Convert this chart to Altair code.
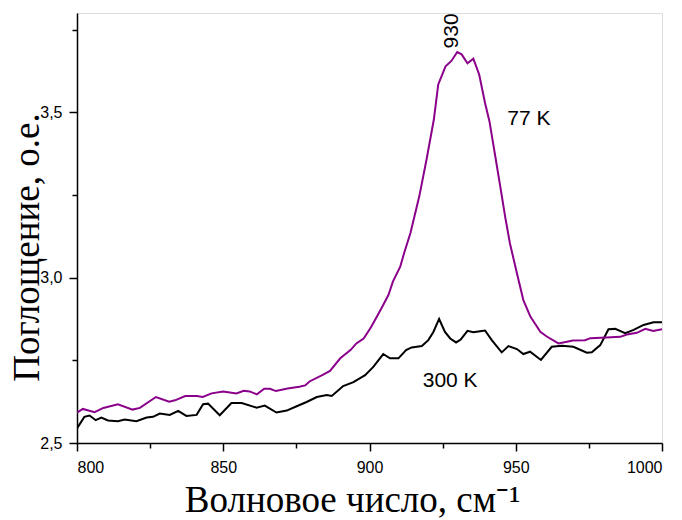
import altair as alt
import pandas as pd

# 77 K spectrum (purple)
wn_77 = [800, 802, 806, 809, 814, 819, 821.5, 827, 831.5, 833.5, 837, 841, 843, 846, 850,
         854.5, 857, 859, 861.5, 864, 866, 868, 872, 876, 878, 879.5, 884, 886.5, 890, 893.5,
         895.5, 898, 900.5, 902.5, 904.5, 906.5, 908, 910.5, 912, 914, 915.5, 917, 919.5, 922,
         923.5, 926, 928, 930, 931.5, 933.5, 935.5, 937.5, 939.5, 941, 943, 944.7, 946.4, 948,
         950.4, 952.6, 955, 958.4, 960.6, 964.6, 967.5, 969.5, 973.7, 975.5, 981, 985.7, 988,
         991.4, 994.3, 997, 1000]
abs_77 = [2.592, 2.603, 2.593, 2.606, 2.617, 2.601, 2.606, 2.639, 2.625, 2.629, 2.642, 2.642,
          2.639, 2.650, 2.656, 2.650, 2.658, 2.656, 2.647, 2.664, 2.664, 2.657, 2.665, 2.670,
          2.674, 2.686, 2.706, 2.718, 2.756, 2.781, 2.801, 2.816, 2.850, 2.882, 2.914, 2.948,
          2.988, 3.033, 3.079, 3.135, 3.190, 3.245, 3.357, 3.478, 3.584, 3.639, 3.655, 3.682,
          3.675, 3.648, 3.662, 3.614, 3.528, 3.473, 3.367, 3.276, 3.183, 3.104, 3.013, 2.932,
          2.882, 2.836, 2.822, 2.801, 2.806, 2.810, 2.811, 2.817, 2.819, 2.821, 2.828, 2.833,
          2.845, 2.839, 2.844]

# 300 K spectrum (black)
wn_300 = [800, 802.5, 804.3, 806.4, 808.3, 810.6, 814, 816.3, 820.3, 823.8, 826, 828.3, 831.7,
          834.6, 837.4, 840.9, 843.1, 844.8, 848.8, 852.8, 856.3, 861.4, 864.2, 868.2, 871.7,
          875.1, 878.5, 882, 885.4, 887.1, 891, 894.5, 898.5, 901.3, 904.7, 907, 909.9, 912.5,
          914.4, 917.9, 920.1, 921.8, 923.8, 925.8, 927.6, 929.6, 931.2, 933.5, 935.5, 937.8,
          939.5, 941.8, 945.2, 947.5, 950.4, 952.6, 954.9, 958.6, 962.3, 965.8, 969.7, 974.3,
          976, 978.9, 981.7, 984, 987.4, 990.3, 993.7, 997.1, 1000]
abs_300 = [2.544, 2.579, 2.583, 2.569, 2.577, 2.568, 2.566, 2.571, 2.566, 2.577, 2.579, 2.589,
           2.585, 2.597, 2.582, 2.585, 2.617, 2.619, 2.584, 2.621, 2.621, 2.607, 2.613, 2.592,
           2.598, 2.611, 2.624, 2.639, 2.645, 2.642, 2.672, 2.684, 2.705, 2.730, 2.769, 2.756,
           2.756, 2.781, 2.789, 2.793, 2.811, 2.835, 2.875, 2.836, 2.816, 2.804, 2.813, 2.839,
           2.835, 2.838, 2.840, 2.811, 2.774, 2.793, 2.784, 2.769, 2.776, 2.751, 2.791, 2.794,
           2.791, 2.773, 2.774, 2.796, 2.844, 2.845, 2.832, 2.842, 2.857, 2.865, 2.865]

series_names = ["300 K", "77 K"]
series_colors = ["#000000", "#8B008B"]

ann_text = ["930", "77 K", "300 K"]
ann_x = [928.1, 947.1, 918.2]
ann_y = [3.693, 3.479, 2.688]
ann_angle = [270, 0, 0]

x_ticks = [800, 825, 850, 875, 900, 925, 950, 975, 1000]
y_ticks = [2.5, 2.75, 3.0, 3.25, 3.5, 3.75]

df = pd.concat([
    pd.DataFrame({"wn": wn_300, "a": abs_300, "s": series_names[0], "o": 0}),
    pd.DataFrame({"wn": wn_77, "a": abs_77, "s": series_names[1], "o": 1}),
])
ann = pd.DataFrame({"t": ann_text, "x": ann_x, "y": ann_y, "ang": ann_angle})

major_x = "datum.value % 50 === 0"
major_y = "abs(datum.value * 2 - round(datum.value * 2)) < 0.001"

xaxis = alt.Axis(
    values=x_ticks,
    labelExpr=f"{major_x} ? format(datum.value, 'd') : ''",
    tickSize={"condition": {"test": major_x, "value": 8}, "value": 5},
    title="Волновое число, см⁻¹",
    titleFont="Liberation Serif", titleFontSize=37, titleFontWeight="normal",
    titleColor="black", titleAnchor="middle", titleAlign="center",
    titleBaseline="alphabetic", titleX=275, titleY=68,
    labelFont="Liberation Sans", labelFontSize=16, labelColor="black",
    labelPadding=8, grid=False, domainColor="black", domainWidth=1.5,
    tickColor="black", tickWidth=1.5,
)
yaxis = alt.Axis(
    values=y_ticks,
    labelExpr=f"{major_y} ? replace(format(datum.value, '.1f'), '.', ',') : ''",
    tickSize={"condition": {"test": major_y, "value": 8}, "value": 5},
    title="Поглощение, о.е.",
    titleFont="Liberation Serif", titleFontSize=37, titleFontWeight="normal",
    titleColor="black", titleAngle=270, titleAlign="center",
    titleBaseline="alphabetic", titleX=-39, titleY=234,
    labelFont="Liberation Sans", labelFontSize=16, labelColor="black",
    labelPadding=7, grid=False, domainColor="black", domainWidth=1.5,
    tickColor="black", tickWidth=1.5,
)

lines = alt.Chart(df).mark_line(strokeWidth=2, clip=True).encode(
    x=alt.X("wn:Q", scale=alt.Scale(domain=[800, 1000], nice=False, zero=False), axis=xaxis),
    y=alt.Y("a:Q", scale=alt.Scale(domain=[2.5, 3.8], nice=False, zero=False), axis=yaxis),
    color=alt.Color("s:N", scale=alt.Scale(domain=series_names, range=series_colors), legend=None),
    detail="s:N",
    order="wn:Q",
)

labels_h = alt.Chart(ann[ann["ang"] == 0]).mark_text(
    font="Liberation Sans", fontSize=21, align="left", baseline="middle", color="black"
).encode(x="x:Q", y="y:Q", text="t:N")

labels_v = alt.Chart(ann[ann["ang"] != 0]).mark_text(
    font="Liberation Sans", fontSize=21, align="left", baseline="middle", color="black", angle=270
).encode(x="x:Q", y="y:Q", text="t:N")

chart = alt.layer(lines, labels_h, labels_v).properties(
    width=585, height=430,
    autosize=alt.AutoSizeParams(type="none"),
    padding={"left": 77, "top": 13, "right": 20, "bottom": 77},
).configure_view(stroke=None).configure(background="white")

chart.save("out.html", embed_options={"renderer": "svg", "actions": False})
